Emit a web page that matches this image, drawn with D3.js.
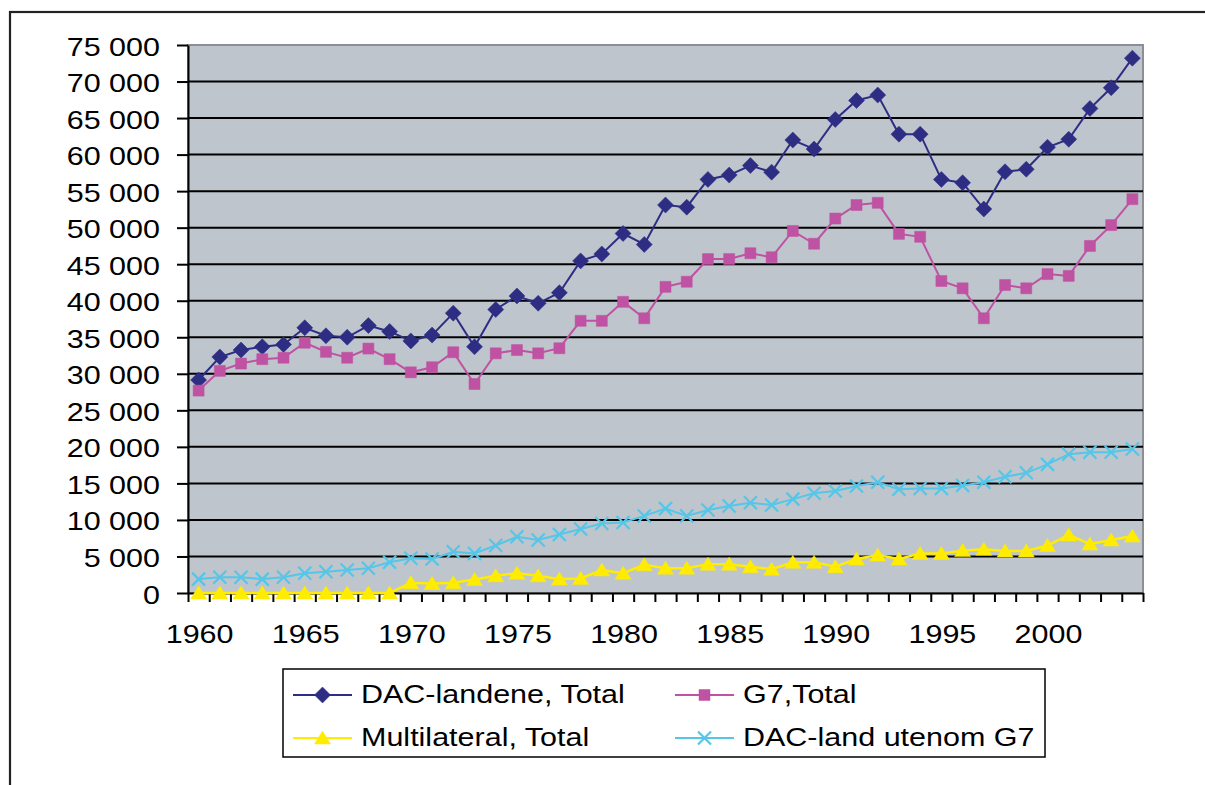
<!DOCTYPE html>
<html>
<head>
<meta charset="utf-8">
<script src="https://cdn.jsdelivr.net/npm/d3@7"></script>
<style>
  body { margin: 0; background: #fff; }
  svg { display: block; }
  text { font-family: "Liberation Sans", Arial, sans-serif; font-size: 25px; fill: #000; }
</style>
</head>
<body>
<div id="chart"></div>
<script>
// Categories
var years = [1960, 1961, 1962, 1963, 1964, 1965, 1966, 1967, 1968, 1969,
  1970, 1971, 1972, 1973, 1974, 1975, 1976, 1977, 1978, 1979,
  1980, 1981, 1982, 1983, 1984, 1985, 1986, 1987, 1988, 1989,
  1990, 1991, 1992, 1993, 1994, 1995, 1996, 1997, 1998, 1999,
  2000, 2001, 2002, 2003, 2004];

// Series values
var dacTotal = [29150, 32300, 33250, 33700, 34000, 36300, 35200, 35000, 36600, 35800,
  34500, 35300, 38300, 33700, 38800, 40650, 39650, 41100, 45450, 46400,
  49200, 47700, 53100, 52800, 56600, 57200, 58500, 57600, 62000, 60750,
  64800, 67400, 68150, 62800, 62800, 56600, 56150, 52550, 57650, 58000,
  61000, 62100, 66300, 69150, 73200];

var g7Total = [27700, 30400, 31400, 32000, 32200, 34250, 33000, 32200, 33450, 32000,
  30200, 30900, 32950, 28600, 32800, 33250, 32800, 33500, 37250, 37250,
  39850, 37600, 41900, 42600, 45700, 45700, 46500, 45950, 49550, 47800,
  51250, 53100, 53400, 49150, 48750, 42700, 41700, 37600, 42150, 41700,
  43650, 43400, 47500, 50350, 53900];

var multiTotal = [0, 0, 0, 0, 0, 0, 0, 0, 0, 0,
  1400, 1300, 1400, 1850, 2350, 2700, 2350, 1900, 2000, 3150,
  2700, 3850, 3400, 3400, 3950, 3950, 3600, 3250, 4200, 4200,
  3600, 4650, 5200, 4650, 5400, 5400, 5800, 6000, 5750, 5750,
  6500, 7950, 6700, 7250, 7800];

var nonG7 = [1900, 2150, 2150, 1900, 2150, 2700, 2900, 3150, 3400, 4200,
  4750, 4650, 5650, 5400, 6500, 7700, 7250, 8000, 8750, 9500,
  9650, 10550, 11550, 10550, 11350, 11900, 12350, 12050, 12850, 13650,
  13950, 14650, 15150, 14200, 14300, 14300, 14700, 15150, 15900, 16450,
  17600, 19000, 19250, 19250, 19700];

var seriesNames = ["DAC-landene, Total", "G7,Total", "Multilateral, Total", "DAC-land utenom G7"];

// Tick labels
var yTicks = [0, 5000, 10000, 15000, 20000, 25000, 30000, 35000, 40000, 45000, 50000, 55000, 60000, 65000, 70000, 75000];
var xLabels = [1960, 1965, 1970, 1975, 1980, 1985, 1990, 1995, 2000];

// Size of the page
var width = 1205;
var height = 785;

// plot box
var plotLeft = 188, plotRight = 1143, plotTop = 45, plotBottom = 593;

// text is drawn a bit wide in the original
var stretch = 1.22;

var svg = d3.select("#chart")
  .append("svg")
  .attr("width", width)
  .attr("height", height);

// outer frame (runs off the page right and bottom)
svg.append("rect")
  .attr("x", 10).attr("y", 12)
  .attr("width", 1300).attr("height", 900)
  .attr("fill", "none")
  .attr("stroke", "#222")
  .attr("stroke-width", 2.2);

// plot background
svg.append("rect")
  .attr("x", plotLeft).attr("y", plotTop)
  .attr("width", plotRight - plotLeft).attr("height", plotBottom - plotTop)
  .attr("fill", "#bec5cc")
  .attr("stroke", "#8c9096")
  .attr("stroke-width", 2);

// scales
var xBand = d3.scaleBand()
  .domain(years)
  .range([plotLeft, plotRight])
  .padding(0);

var xEdge = d3.scaleLinear()
  .domain([1960, 2005])
  .range([plotLeft, plotRight]);

var y = d3.scaleLinear()
  .domain([0, 75000])
  .range([plotBottom, plotTop]);

function cx(i) {
  return xBand(years[i]) + xBand.bandwidth() / 2;
}

// gridlines
svg.append("g")
  .selectAll("line")
  .data(yTicks.filter(function (d) { return d > 0 && d < 75000; }))
  .enter()
  .append("line")
  .attr("x1", plotLeft).attr("x2", plotRight)
  .attr("y1", function (d) { return y(d); })
  .attr("y2", function (d) { return y(d); })
  .attr("stroke", "#000")
  .attr("stroke-width", 2);

// y axis
var fmt = d3.formatLocale({ decimal: ",", thousands: " ", grouping: [3], currency: ["", ""] }).format(",");

var yAxis = svg.append("g")
  .attr("transform", "translate(" + plotLeft + ",0)")
  .call(d3.axisLeft(y).tickValues(yTicks).tickSize(11).tickSizeOuter(0).tickFormat(fmt));

yAxis.select(".domain").attr("stroke", "#000").attr("stroke-width", 2);
yAxis.selectAll(".tick line").attr("stroke", "#000").attr("stroke-width", 2);
yAxis.selectAll(".tick text")
  .attr("x", null).attr("dy", null)
  .attr("font-size", null).attr("font-family", null)
  .attr("text-anchor", "end")
  .attr("transform", "translate(-28,10) scale(" + stretch + ",1)");

// x axis: ticks between categories
var xTickAxis = svg.append("g")
  .attr("transform", "translate(0," + plotBottom + ")")
  .call(d3.axisBottom(xEdge).tickValues(years.concat([2005])).tickSize(9).tickSizeOuter(0).tickFormat(""));

xTickAxis.select(".domain").attr("stroke", "#000").attr("stroke-width", 2);
xTickAxis.selectAll(".tick line").attr("stroke", "#000").attr("stroke-width", 2);

// x axis: year labels at category centres
var xLabelAxis = svg.append("g")
  .attr("transform", "translate(0," + plotBottom + ")")
  .call(d3.axisBottom(xBand).tickValues(xLabels).tickSize(0).tickFormat(d3.format("d")));

xLabelAxis.select(".domain").remove();
xLabelAxis.selectAll(".tick text")
  .attr("y", null).attr("dy", null)
  .attr("font-size", null).attr("font-family", null)
  .attr("transform", "translate(1,50) scale(" + stretch + ",1)");

// marker shapes
var markers = {
  diamond: "M0,-8L8,0L0,8L-8,0Z",
  square: "M-5.5,-5.5L5.5,-5.5L5.5,5.5L-5.5,5.5Z",
  triangle: "M0,-7L8,6L-8,6Z",
  cross: "M-6.5,-6.5L6.5,6.5M-6.5,6.5L6.5,-6.5"
};

var series = [
  { name: seriesNames[0], values: dacTotal, color: "#2e2d84", marker: "diamond", lw: 2 },
  { name: seriesNames[1], values: g7Total, color: "#bf52a3", marker: "square", lw: 2 },
  { name: seriesNames[2], values: multiTotal, color: "#ffec00", marker: "triangle", lw: 2.5 },
  { name: seriesNames[3], values: nonG7, color: "#55c6e8", marker: "cross", lw: 2 }
];

var line = d3.line()
  .x(function (d, i) { return cx(i); })
  .y(function (d) { return y(d); });

function drawMarker(sel, s) {
  sel.append("path")
    .attr("d", markers[s.marker])
    .attr("fill", s.marker === "cross" ? "none" : s.color)
    .attr("stroke", s.color)
    .attr("stroke-width", s.marker === "cross" ? 2.2 : 0.5);
}

series.forEach(function (s) {
  var g = svg.append("g");
  g.append("path")
    .datum(s.values)
    .attr("d", line)
    .attr("fill", "none")
    .attr("stroke", s.color)
    .attr("stroke-width", s.lw);

  g.selectAll("g.pt")
    .data(s.values)
    .enter()
    .append("g")
    .attr("class", "pt")
    .attr("transform", function (d, i) { return "translate(" + cx(i) + "," + y(d) + ")"; })
    .each(function () { drawMarker(d3.select(this), s); });
});

// Legend
svg.append("rect")
  .attr("x", 283).attr("y", 669)
  .attr("width", 762).attr("height", 88)
  .attr("fill", "#fff")
  .attr("stroke", "#000")
  .attr("stroke-width", 1.5);

var legendPos = [
  { x: 293, y: 695 },
  { x: 675, y: 695 },
  { x: 293, y: 738 },
  { x: 675, y: 738 }
];

series.forEach(function (s, i) {
  var p = legendPos[i];
  var g = svg.append("g");
  g.append("line")
    .attr("x1", p.x).attr("x2", p.x + 59)
    .attr("y1", p.y).attr("y2", p.y)
    .attr("stroke", s.color)
    .attr("stroke-width", 2);
  var m = g.append("g").attr("transform", "translate(" + (p.x + 29.5) + "," + p.y + ")");
  drawMarker(m, s);
  g.append("text")
    .attr("transform", "translate(" + (p.x + 68) + "," + (p.y + 8) + ") scale(" + stretch + ",1)")
    .text(s.name);
});
</script>
</body>
</html>
